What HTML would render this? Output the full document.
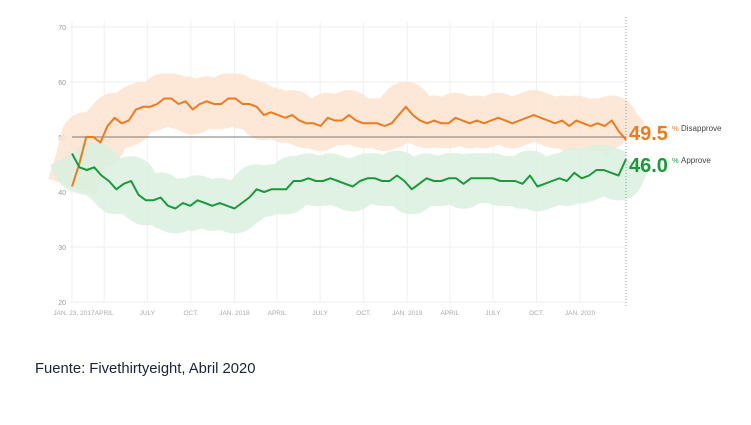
<!DOCTYPE html>
<html><head><meta charset="utf-8"><style>
body{margin:0;width:751px;height:425px;background:#fff;overflow:hidden;position:relative;font-family:"Liberation Sans",sans-serif}
#src{position:absolute;left:35px;top:361px;font-size:14.8px;color:#1c2238;white-space:nowrap}
</style></head><body>
<svg id="chart" width="751" height="330" style="position:absolute;left:0;top:0"></svg>
<div id="src">Fuente: Fivethirtyeight, Abril 2020</div>
<script>
const yTicks=[20,30,40,50,60,70];
const xTickLabels=["JAN. 23, 2017","APRIL","JULY","OCT.","JAN. 2018","APRIL","JULY","OCT.","JAN. 2019","APRIL","JULY","OCT.","JAN. 2020"];
const xTickDays=[0,68,159,251,343,433,524,616,708,798,889,981,1073];
const disapprove=[41,45,50,50,49,52,53.5,52.5,53,55,55.5,55.5,56,57,57,56,56.5,55,56,56.5,56,56,57,57,56,56,55.5,54,54.5,54,53.5,54,53,52.5,52.5,52,53.5,53,53,54,53,52.5,52.5,52.5,52,52.5,54,55.5,54,53,52.5,53,52.5,52.5,53.5,53,52.5,53,52.5,53,53.5,53,52.5,53,53.5,54,53.5,53,52.5,53,52,53,52.5,52,52.5,52,53,51,49.5];
const approve=[47,44.5,44,44.5,43,42,40.5,41.5,42,39.5,38.5,38.5,39,37.5,37,38,37.5,38.5,38,37.5,38,37.5,37,38,39,40.5,40,40.5,40.5,40.5,42,42,42.5,42,42,42.5,42,41.5,41,42,42.5,42.5,42,42,43,42,40.5,41.5,42.5,42,42,42.5,42.5,41.5,42.5,42.5,42.5,42.5,42,42,42,41.5,43,41,41.5,42,42.5,42,43.5,42.5,43,44,44,43.5,43,46];
const totalDays=1170;
const NS="http://www.w3.org/2000/svg";
const svg=document.getElementById('chart');
const X=d=>72+d*(554/totalDays);
const Y=v=>302-(v-20)*5.5;
function mk(t,a,p){const e=document.createElementNS(NS,t);for(const k in a)e.setAttribute(k,a[k]);(p||svg).appendChild(e);return e;}
yTicks.forEach(v=>{
  const g=mk('line',{x1:70,x2:626,y1:Y(v),y2:Y(v),stroke:'#eeeeee','stroke-width':1});
  
  
  const t=mk('text',{x:66,y:Y(v)+3,'text-anchor':'end','font-size':7,fill:'#999'});
  t.textContent=v;
  
  
});
xTickDays.forEach((d,i)=>{
  const g=mk('line',{x1:X(d),x2:X(d),y1:Y(71),y2:Y(20),stroke:'#f0f0f0','stroke-width':1});
  
  
  const t=mk('text',{x:X(d)+(i==0?2:0),y:315,'text-anchor':'middle','font-size':6.5,fill:'#aaa'});
  t.textContent=xTickLabels[i];
  
  
});
function pts(arr){return arr.map((v,i)=>X(i*totalDays/(arr.length-1)).toFixed(1)+','+Y(v).toFixed(1)).join(' ');}
const b1=mk('polyline',{points:pts(disapprove),fill:'none',stroke:'#fde3cf','stroke-width':50,'stroke-linejoin':'round',opacity:0.85});


const b2=mk('polyline',{points:pts(approve),fill:'none',stroke:'#d9f0de','stroke-width':50,'stroke-linejoin':'round',opacity:0.85});


const ref=mk('line',{x1:72,x2:626,y1:Y(50),y2:Y(50),stroke:'#555','stroke-width':0.8});


const l1=mk('polyline',{points:pts(disapprove),fill:'none',stroke:'#ee7a1c','stroke-width':2,'stroke-linejoin':'round'});


const l2=mk('polyline',{points:pts(approve),fill:'none',stroke:'#1a9a3a','stroke-width':2,'stroke-linejoin':'round'});


const dl=mk('line',{x1:626,x2:626,y1:17,y2:306,stroke:'#999','stroke-width':1,'stroke-dasharray':'1,2'});


function lab(val,y,col,word,name){
  const t=mk('text',{x:629,y:y,'font-size':20,'font-weight':'bold',fill:col});
  t.textContent=val.toFixed(1);
  
  
  const s=mk('text',{x:672,y:y-9,'font-size':7.5,fill:col});
  s.textContent='%';
  
  
  const w=mk('text',{x:681,y:y-9,'font-size':8,fill:'#444'});
  w.textContent=word;
  
  
}
lab(disapprove[disapprove.length-1],140,'#ee7a1c','Disapprove','disapprove');
lab(approve[approve.length-1],172,'#1a9a3a','Approve','approve');
</script>
</body></html>
